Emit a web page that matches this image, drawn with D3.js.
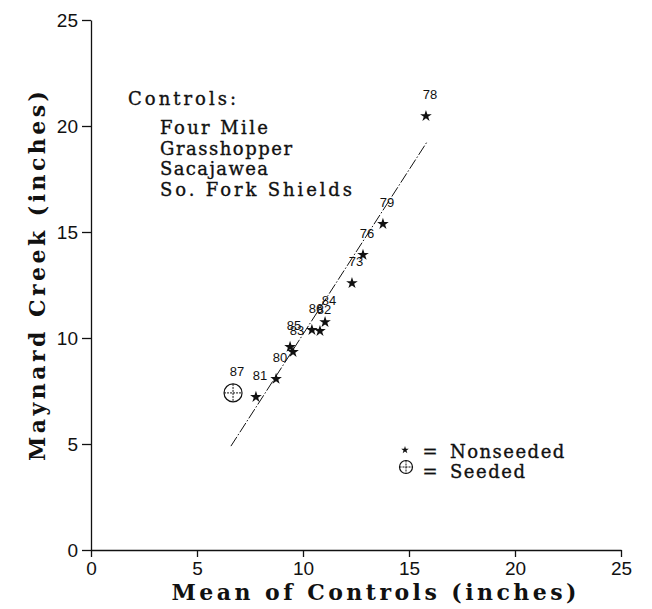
<!DOCTYPE html>
<html>
<head>
<meta charset="utf-8">
<script src="https://cdn.jsdelivr.net/npm/d3@7"></script>
<style>
  body { margin: 0; background: #fff; }
  svg { display: block; }
</style>
</head>
<body>
<svg id="chart" width="652" height="609"></svg>
<script>
// Water-year precipitation: Maynard Creek vs. mean of the control gauges
const years        = ["78", "79", "76", "73", "84", "86", "82", "85", "83", "80", "81", "87"];
const meanControls = [15.80, 13.77, 12.83, 12.31, 11.04, 10.42, 10.80, 9.39, 9.53, 8.73, 7.78, 6.70];
const maynardCreek = [20.47, 15.38, 13.92, 12.59, 10.75, 10.38, 10.33, 9.58, 9.34, 8.07, 7.22, 7.41];
const isSeeded     = [false, false, false, false, false, false, false, false, false, false, false, true];

// fitted relation through the nonseeded years (end points)
const fitX = [6.6, 15.85];
const fitY = [4.9, 19.25];

const tickValues = [0, 5, 10, 15, 20, 25];
const controlSites = ["Four Mile", "Grasshopper", "Sacajawea", "So. Fork Shields"];

const serif = "'DejaVu Serif', 'Liberation Serif', serif";
const sans = "'Liberation Sans', Arial, sans-serif";
const ink = "#111";

const svg = d3.select("#chart");

const x = d3.scaleLinear().domain([0, 25]).range([91, 621]);
const y = d3.scaleLinear().domain([0, 25]).range([550, 20]);

// axes
const yAxis = svg.append("g")
  .attr("transform", `translate(${x(0)},0)`)
  .call(d3.axisLeft(y).tickValues(tickValues).tickSize(9).tickSizeOuter(0).tickPadding(4));
const xAxis = svg.append("g")
  .attr("transform", `translate(0,${y(0)})`)
  .call(d3.axisBottom(x).tickValues(tickValues).tickSize(7).tickSizeOuter(0).tickPadding(5));

[yAxis, xAxis].forEach(g => {
  g.selectAll("path, line").attr("stroke", ink).attr("stroke-width", 1.3);
  g.selectAll("text")
    .attr("fill", ink)
    .style("font-family", sans)
    .style("font-size", "19px");
});

// axis titles
svg.append("text")
  .attr("x", (x(0) + x(25)) / 2 + 18)
  .attr("y", 600)
  .attr("text-anchor", "middle")
  .attr("textLength", 405)
  .attr("lengthAdjust", "spacing")
  .style("font-family", serif)
  .style("font-size", "22px")
  .style("font-weight", "bold")
  .attr("fill", ink)
  .text("Mean of Controls (inches)");

svg.append("text")
  .attr("transform", `translate(45,${276}) rotate(-90)`)
  .attr("text-anchor", "middle")
  .attr("textLength", 370)
  .attr("lengthAdjust", "spacing")
  .style("font-family", serif)
  .style("font-size", "22px")
  .style("font-weight", "bold")
  .attr("fill", ink)
  .text("Maynard Creek (inches)");

// list of control gauges
const note = svg.append("g")
  .style("font-family", serif)
  .style("font-size", "18px")
  .attr("fill", ink)
  .attr("stroke", ink)
  .attr("stroke-width", 0.35);
note.append("text")
  .attr("x", 128).attr("y", 105)
  .attr("textLength", 9 * 12).attr("lengthAdjust", "spacing")
  .text("Controls:");
note.selectAll("text.site")
  .data(controlSites)
  .join("text")
  .attr("class", "site")
  .attr("x", 160)
  .attr("y", (d, i) => 134 + i * 20.5)
  .attr("textLength", d => d.length * 12)
  .attr("lengthAdjust", "spacing")
  .text(d => d);

// fitted line
svg.append("line")
  .attr("x1", x(fitX[0])).attr("y1", y(fitY[0]))
  .attr("x2", x(fitX[1])).attr("y2", y(fitY[1]))
  .attr("stroke", ink)
  .attr("stroke-width", 1)
  .attr("stroke-dasharray", "11,2,1.5,2");

const rows = years.map((yr, i) => ({
  yr, mx: meanControls[i], my: maynardCreek[i], seeded: isSeeded[i]
}));

const star = d3.symbol().type(d3.symbolStar);

function seededMark(g, r) {
  g.append("circle").attr("r", r).attr("fill", "#fff").attr("stroke", ink).attr("stroke-width", 1.2);
  g.append("line").attr("x1", -r).attr("x2", r).attr("stroke", ink).attr("stroke-width", 1)
    .attr("stroke-dasharray", "2,1");
  g.append("line").attr("y1", -r).attr("y2", r).attr("stroke", ink).attr("stroke-width", 1)
    .attr("stroke-dasharray", "2,1");
}

// points
const pts = svg.append("g").selectAll("g")
  .data(rows)
  .join("g")
  .attr("transform", d => `translate(${x(d.mx)},${y(d.my)})`);

pts.filter(d => !d.seeded)
  .append("path")
  .attr("d", star.size(42)())
  .attr("fill", ink);

pts.filter(d => d.seeded).each(function () { seededMark(d3.select(this), 9); });

// year labels
svg.append("g").selectAll("text")
  .data(rows)
  .join("text")
  .attr("x", d => x(d.mx) + 4)
  .attr("y", d => y(d.my) - 17)
  .attr("text-anchor", "middle")
  .style("font-family", sans)
  .style("font-size", "13px")
  .attr("fill", ink)
  .text(d => d.yr);

// legend
const legend = svg.append("g")
  .style("font-family", serif)
  .style("font-size", "18px")
  .attr("fill", ink);
legend.append("path")
  .attr("transform", "translate(405,450)")
  .attr("d", star.size(18)())
  .attr("fill", ink);
const legendText = legend.append("g").attr("stroke", ink).attr("stroke-width", 0.35);
legendText.append("text").attr("x", 430).attr("y", 458).attr("text-anchor", "middle").text("=");
legendText.append("text").attr("x", 450).attr("y", 458)
  .attr("textLength", 9 * 12.7).attr("lengthAdjust", "spacing").text("Nonseeded");
seededMark(legend.append("g").attr("transform", "translate(406,467)"), 6.5);
legendText.append("text").attr("x", 430).attr("y", 478).attr("text-anchor", "middle").text("=");
legendText.append("text").attr("x", 450).attr("y", 478)
  .attr("textLength", 6 * 12.5).attr("lengthAdjust", "spacing").text("Seeded");
</script>
</body>
</html>
